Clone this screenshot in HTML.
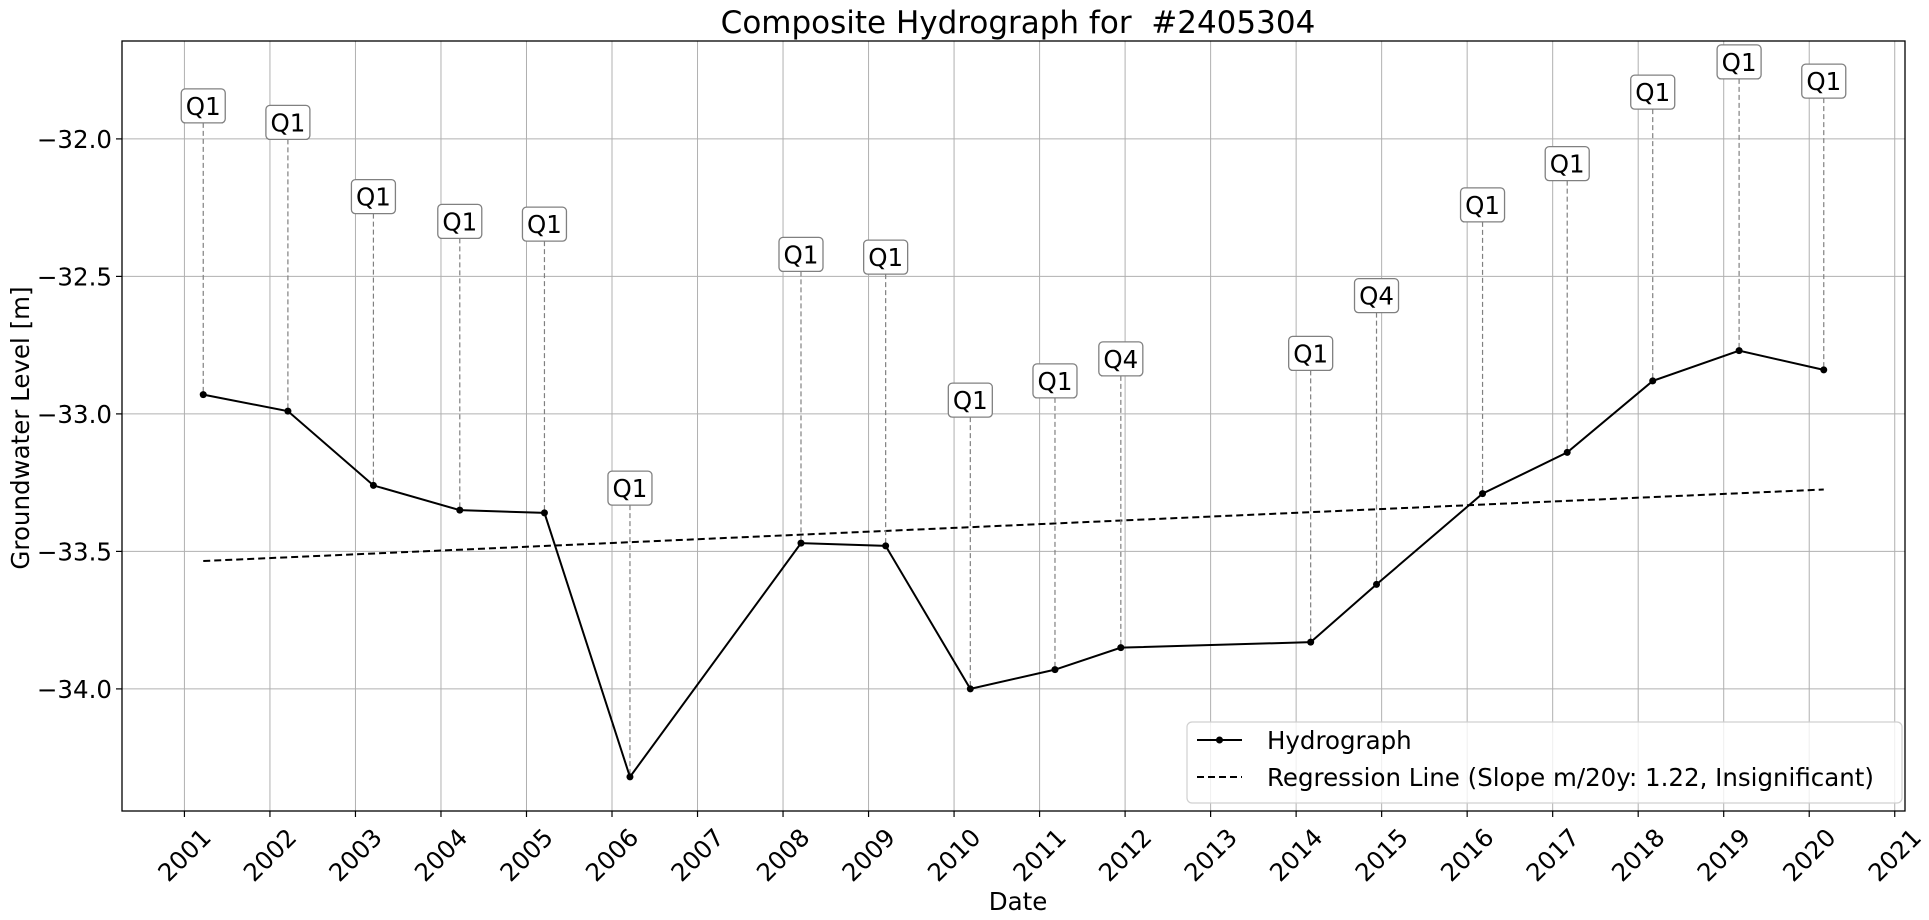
<!DOCTYPE html>
<html><head><meta charset="utf-8"><style>
html,body{margin:0;padding:0;background:#fff;}
svg{display:block;font-family:"DejaVu Sans","Liberation Sans",sans-serif;}
</style></head><body>
<svg id="chart" width="1929" height="920" viewBox="0 0 1929 920" xmlns="http://www.w3.org/2000/svg">
<text x="1018" y="33" font-size="31" text-anchor="middle">Composite Hydrograph for&#160; #2405304</text>
<text transform="translate(29,428) rotate(-90)" font-size="24.5" text-anchor="middle">Groundwater Level [m]</text>
<text x="1018" y="910" font-size="24.5" text-anchor="middle">Date</text>
<g id="grid"></g>
<g id="marks"></g>
<g id="axes"></g>
<g id="legend"></g>
</svg>
<script>
const dates = [2001.22,2002.21,2003.21,2004.22,2005.21,2006.21,2008.21,2009.20,2010.19,2011.18,2011.95,2014.17,2014.94,2016.18,2017.17,2018.17,2019.18,2020.17];
const levels = [-32.93,-32.99,-33.26,-33.35,-33.36,-34.32,-33.47,-33.48,-34.00,-33.93,-33.85,-33.83,-33.62,-33.29,-33.14,-32.88,-32.77,-32.84];
const quarters = ["Q1","Q1","Q1","Q1","Q1","Q1","Q1","Q1","Q1","Q1","Q4","Q1","Q4","Q1","Q1","Q1","Q1","Q1"];
const labelLevels = [-31.88,-31.94,-32.21,-32.30,-32.31,-33.27,-32.42,-32.43,-32.95,-32.88,-32.80,-32.78,-32.57,-32.24,-32.09,-31.83,-31.72,-31.79];
const regStart = [2001.22,-33.535];
const regEnd = [2020.17,-33.275];
const xTicks = [2001,2002,2003,2004,2005,2006,2007,2008,2009,2010,2011,2012,2013,2014,2015,2016,2017,2018,2019,2020,2021];
const yTicks = [-32.0,-32.5,-33.0,-33.5,-34.0];
const yTickLabels = ["\u221232.0","\u221232.5","\u221233.0","\u221233.5","\u221234.0"];

const L=122,R=1905,T=41,B=811;
const X0=2000.27,X1=2021.12,Y0=-34.444,Y1=-31.644;
const xs=v=>L+(v-X0)/(X1-X0)*(R-L);
const ys=v=>B-(v-Y0)/(Y1-Y0)*(B-T);
const NS="http://www.w3.org/2000/svg";
function mk(tag,attrs,parent){const e=document.createElementNS(NS,tag);for(const k in attrs)e.setAttribute(k,attrs[k]);parent.appendChild(e);return e;}
const grid=document.getElementById('grid'),marks=document.getElementById('marks'),axes=document.getElementById('axes'),legend=document.getElementById('legend');

xTicks.forEach((t,i)=>{
  const x=xs(t);
  const g=mk('line',{x1:x,x2:x,y1:T,y2:B,stroke:'#b0b0b0','stroke-width':1},grid);
  
  
  const tk=mk('line',{x1:x,x2:x,y1:B,y2:B+6,stroke:'#000','stroke-width':1.2},axes);
  
  
  const tx=mk('text',{transform:`translate(${x},${B+44}) rotate(-45)`,'font-size':24.5,'text-anchor':'middle','dominant-baseline':'central'},axes);
  tx.textContent=t;
  
  
});
yTicks.forEach((t,i)=>{
  const y=ys(t);
  const g=mk('line',{x1:L,x2:R,y1:y,y2:y,stroke:'#b0b0b0','stroke-width':1},grid);
  
  
  const tk=mk('line',{x1:L-6,x2:L,y1:y,y2:y,stroke:'#000','stroke-width':1.2},axes);
  
  
  const tx=mk('text',{x:L-10,y:y+9,'font-size':24.5,'text-anchor':'end'},axes);
  tx.textContent=yTickLabels[i];
  
  
});
const frame=mk('rect',{x:L,y:T,width:R-L,height:B-T,fill:'none',stroke:'#000','stroke-width':1.3},axes);



const reg=mk('line',{x1:xs(regStart[0]),y1:ys(regStart[1]),x2:xs(regEnd[0]),y2:ys(regEnd[1]),stroke:'#000','stroke-width':2,'stroke-dasharray':'7,4'},marks);



dates.forEach((d,i)=>{
  const x=xs(d),ly=ys(labelLevels[i]);
  const dl=mk('line',{x1:x,x2:x,y1:ly+17,y2:ys(levels[i]),stroke:'#808080','stroke-width':1.2,'stroke-dasharray':'5,3'},marks);
  
  
});
const pts=dates.map((d,i)=>xs(d)+','+ys(levels[i])).join(' ');
const pl=mk('polyline',{points:pts,fill:'none',stroke:'#000','stroke-width':2},marks);


dates.forEach((d,i)=>{
  const c=mk('circle',{cx:xs(d),cy:ys(levels[i]),r:3.5,fill:'#000'},marks);
  
  
});
dates.forEach((d,i)=>{
  const x=xs(d),ly=ys(labelLevels[i]);
  const r=mk('rect',{x:x-22,y:ly-17,width:44,height:34,rx:4,fill:'#fff',stroke:'#808080','stroke-width':1.3},marks);
  
  
  const t=mk('text',{x:x,y:ly+9,'font-size':24.5,'text-anchor':'middle'},marks);
  t.textContent=quarters[i];
  
  
});

const lb=mk('rect',{x:1187,y:722,width:715,height:81,rx:5,fill:'#fff','fill-opacity':0.8,stroke:'#d0d0d0','stroke-width':1.2},legend);


const l1=mk('line',{x1:1197,x2:1242,y1:740,y2:740,stroke:'#000','stroke-width':2},legend);


const c1=mk('circle',{cx:1219.5,cy:740,r:3.5,fill:'#000'},legend);


const t1=mk('text',{x:1267,y:749,'font-size':24.5},legend);
t1.textContent='Hydrograph';


const l2=mk('line',{x1:1197,x2:1242,y1:777,y2:777,stroke:'#000','stroke-width':2,'stroke-dasharray':'7,4'},legend);


const t2=mk('text',{x:1267,y:786,'font-size':24.5},legend);
t2.textContent='Regression Line (Slope m/20y: 1.22, Insignificant)';


</script>
</body></html>
